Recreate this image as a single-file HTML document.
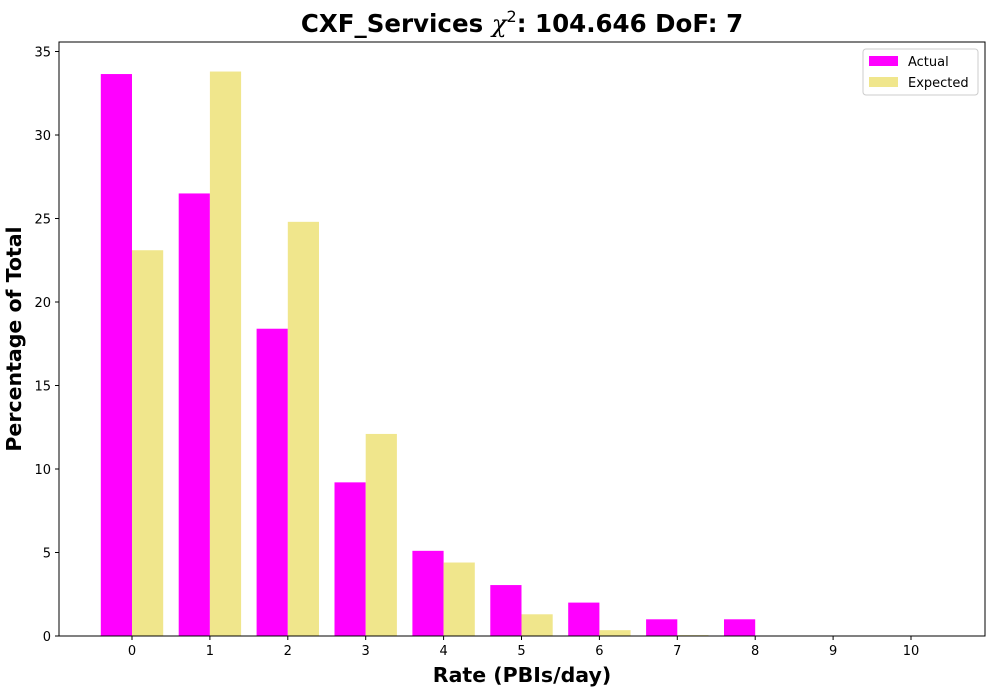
<!DOCTYPE html>
<html><head><meta charset="utf-8">
<style>
html,body{margin:0;padding:0;background:#fff;}
svg{display:block;font-family:"DejaVu Sans","Liberation Sans",sans-serif;}
</style></head>
<body>
<svg id="chart" width="1000" height="700" xmlns="http://www.w3.org/2000/svg">
<text x="522" y="32" text-anchor="middle" font-size="24.5" font-weight="bold">CXF_Services <tspan font-style="italic" font-weight="normal" font-family="DejaVu Serif,serif">χ</tspan><tspan font-size="16" font-weight="normal" dy="-10">2</tspan><tspan dy="10">: 104.646 DoF: 7</tspan></text>
<g id="bars"></g>
<g id="axes"></g>
<text x="522" y="682" text-anchor="middle" font-size="20.5" font-weight="bold">Rate (PBIs/day)</text>
<text transform="translate(21,339) rotate(-90)" text-anchor="middle" font-size="20.5" font-weight="bold">Percentage of Total</text>
<g>
<rect x="863" y="49" width="115" height="46" fill="#fff" stroke="#ccc" rx="3"/>
<rect x="869" y="56" width="29" height="10" fill="#ff00ff"/>
<text x="908" y="66" font-size="13">Actual</text>
<rect x="869" y="77" width="29" height="10" fill="#f0e68c"/>
<text x="908" y="87" font-size="13">Expected</text>
</g>
</svg>
<script>
const categories = [0,1,2,3,4,5,6,7,8,9,10];
const actualValues = [33.65,26.5,18.4,9.2,5.1,3.05,2.0,1.0,1.0,0,0];
const expectedValues = [23.1,33.8,24.8,12.1,4.4,1.3,0.35,0.05,0.01,0,0];
const yTicks = [0,5,10,15,20,25,30,35];

const NS="http://www.w3.org/2000/svg";
const L=59,R=985,T=42,B=636;
const xPos=c=>132+c*77.9;
const bw=31.2;
const yPos=v=>B-v*16.7;
const bars=document.getElementById('bars');
const axes=document.getElementById('axes');
function mk(tag,attrs,parent){const e=document.createElementNS(NS,tag);for(const k in attrs)e.setAttribute(k,attrs[k]);parent.appendChild(e);return e;}
categories.forEach((c,i)=>{
  const a=mk('rect',{x:xPos(c)-bw,y:yPos(actualValues[i]),width:bw,height:B-yPos(actualValues[i]),fill:'#ff00ff'},bars);
  
  
  const e=mk('rect',{x:xPos(c),y:yPos(expectedValues[i]),width:bw,height:B-yPos(expectedValues[i]),fill:'#f0e68c'},bars);
  
  
  const t=mk('line',{x1:xPos(c),x2:xPos(c),y1:B,y2:B+4,stroke:'#000'},axes);
  
  
  const tl=mk('text',{x:xPos(c),y:B+19,'text-anchor':'middle','font-size':13},axes);
  tl.textContent=c;
  
  
});
yTicks.forEach(v=>{
  const t=mk('line',{x1:L-4,x2:L,y1:yPos(v),y2:yPos(v),stroke:'#000'},axes);
  
  
  const tl=mk('text',{x:L-8,y:yPos(v)+5,'text-anchor':'end','font-size':13},axes);
  tl.textContent=v;
  
  
});
const frame=mk('rect',{x:L,y:T,width:R-L,height:B-T,fill:'none',stroke:'#000','stroke-width':1},axes);


</script>
</body></html>
